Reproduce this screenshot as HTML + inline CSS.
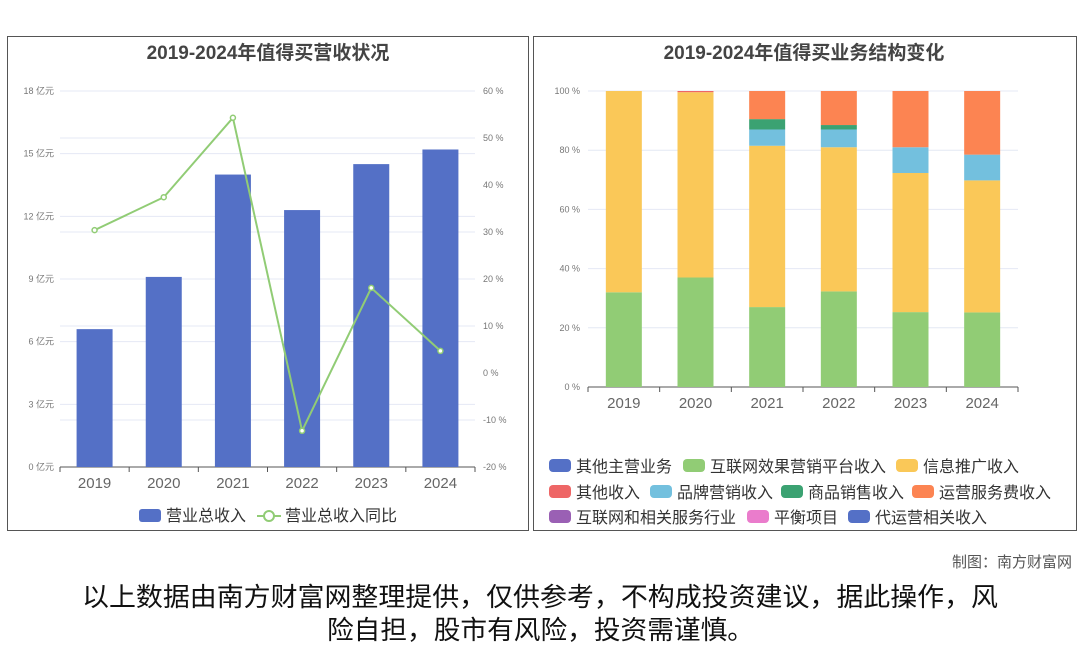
<!DOCTYPE html>
<html><head><meta charset="utf-8">
<style>
body{margin:0;width:1080px;height:646px;background:#fff;overflow:hidden;font-family:"Liberation Sans","Noto Sans CJK SC",sans-serif;}
svg{position:absolute;left:0;top:0}
</style></head>
<body>
<svg id="c" width="1080" height="646" xmlns="http://www.w3.org/2000/svg" font-family="Liberation Sans, Noto Sans CJK SC, sans-serif">
<rect x="7.5" y="36.5" width="521" height="494" fill="none" stroke="#555"/>
<rect x="533.5" y="36.5" width="543" height="494" fill="none" stroke="#555"/>
<text x="268" y="59" text-anchor="middle" font-size="19" font-weight="bold" fill="#444">2019-2024年值得买营收状况</text>
<text x="804" y="59" text-anchor="middle" font-size="19" font-weight="bold" fill="#444">2019-2024年值得买业务结构变化</text>
<g id="left"></g><g id="right"></g>
<text x="1072" y="567" text-anchor="end" font-size="15" fill="#555">制图：南方财富网</text>
<text x="82" y="606" font-size="26" fill="#111" textLength="916" lengthAdjust="spacingAndGlyphs">以上数据由南方财富网整理提供，仅供参考，不构成投资建议，据此操作，风</text>
<text x="327" y="639" font-size="26" fill="#111" textLength="427" lengthAdjust="spacingAndGlyphs">险自担，股市有风险，投资需谨慎。</text>
</svg>
<script>
const years=["2019","2020","2021","2022","2023","2024"];
const revenue=[6.6,9.1,14.0,12.3,14.5,15.2];
const growth=[30.4,37.4,54.3,-12.3,18.1,4.7];
const leftTicks=[0,3,6,9,12,15,18];
const rightTicks=[-20,-10,0,10,20,30,40,50,60];
const segGreen=[32,37,27,32.3,25.3,25.2];
const segYellow=[68,62.6,54.5,48.7,47,44.6];
const segRed=[0,0.4,0,0,0,0];
const segBlue=[0,0,5.5,6,8.7,8.7];
const segDkGreen=[0,0,3.5,1.5,0,0];
const segOrange=[0,0,9.5,11.5,19,21.5];
const pctTicks=[0,20,40,60,80,100];
const NS="http://www.w3.org/2000/svg";
function mk(p,t,a,txt){const e=document.createElementNS(NS,t);for(const k in a)e.setAttribute(k,a[k]);if(txt!=null)e.textContent=txt;p.appendChild(e);return e;}
// left chart
const L=document.getElementById('left');
const lx0=60,lx1=475,ly0=467,ly1=91;
const lband=(lx1-lx0)/years.length;
const lX=i=>lx0+lband*(i+0.5);
const lY=v=>ly0-(v/18)*(ly0-ly1);
const rY=v=>ly0-((v+20)/80)*(ly0-ly1);
leftTicks.forEach(t=>{
 let g=mk(L,'line',{x1:lx0,x2:lx1,y1:lY(t),y2:lY(t),stroke:t?'#e4e8f4':'#555'});
 
 
 let tx=mk(L,'text',{x:lx0-6,y:lY(t)+3,'text-anchor':'end','font-size':9,fill:'#777'},t+' 亿元');
 
 
});
rightTicks.forEach(t=>{
 if(t%20!==0){let g=mk(L,'line',{x1:lx0,x2:lx1,y1:rY(t),y2:rY(t),stroke:'#e4e8f4'});
 
 }
 let tx=mk(L,'text',{x:lx1+8,y:rY(t)+3,'font-size':9,fill:'#777'},t+' %');
 
 
});
years.forEach((y,i)=>{
 let tk=mk(L,'line',{x1:lx0+lband*i,x2:lx0+lband*i,y1:ly0,y2:ly0+5,stroke:'#555'});
 
 
 let b=mk(L,'rect',{x:lX(i)-18,y:lY(revenue[i]),width:36,height:ly0-lY(revenue[i]),fill:'#5470c6'});
 
 
 let t=mk(L,'text',{x:lX(i),y:488,'text-anchor':'middle','font-size':15,fill:'#666'},y);
 
 
});
mk(L,'line',{x1:lx1,x2:lx1,y1:ly0,y2:ly0+5,stroke:'#555'});
let pl=mk(L,'polyline',{points:growth.map((v,i)=>lX(i)+','+rY(v)).join(' '),fill:'none',stroke:'#91cc75','stroke-width':2});


growth.forEach((v,i)=>{let c=mk(L,'circle',{cx:lX(i),cy:rY(v),r:2.5,fill:'#fff',stroke:'#91cc75','stroke-width':1.5});
 
 });
let lg1=mk(L,'rect',{x:139,y:509,width:22,height:13,rx:3,fill:'#5470c6'});


mk(L,'text',{x:166,y:521,'font-size':16,fill:'#333'},'营业总收入');
let lg2=mk(L,'g',{});


mk(lg2,'line',{x1:257,x2:281,y1:516,y2:516,stroke:'#91cc75','stroke-width':2});
mk(lg2,'circle',{cx:269,cy:516,r:5,fill:'#fff',stroke:'#91cc75','stroke-width':2});
mk(L,'text',{x:285,y:521,'font-size':16,fill:'#333'},'营业总收入同比');
// right chart
const R=document.getElementById('right');
const rx0=588,rx1=1018,ry0=387,ry1=91;
const rband=(rx1-rx0)/years.length;
const rX=i=>rx0+rband*(i+0.5);
const pY=v=>ry0-(v/100)*(ry0-ry1);
pctTicks.forEach(t=>{
 let g=mk(R,'line',{x1:rx0,x2:rx1,y1:pY(t),y2:pY(t),stroke:t?'#e4e8f4':'#555'});
 
 
 let tx=mk(R,'text',{x:580,y:pY(t)+3,'text-anchor':'end','font-size':9,fill:'#777'},t+' %');
 
 
});
const series=[[segGreen,'#91cc75'],[segYellow,'#fac858'],[segRed,'#ee6666'],[segBlue,'#73c0de'],[segDkGreen,'#3ba272'],[segOrange,'#fc8452']];
years.forEach((y,i)=>{
 let tk=mk(R,'line',{x1:rx0+rband*i,x2:rx0+rband*i,y1:ry0,y2:ry0+5,stroke:'#555'});
 
 
 let acc=0;
 series.forEach(([arr,col],k)=>{
  const v=arr[i]; if(!v)return;
  let r=mk(R,'rect',{x:rX(i)-18,y:pY(acc+v),width:36,height:pY(acc)-pY(acc+v),fill:col});
  
  
  acc+=v;
 });
 let t=mk(R,'text',{x:rX(i),y:408,'text-anchor':'middle','font-size':15,fill:'#666'},y);
 
 
});
mk(R,'line',{x1:rx1,x2:rx1,y1:ry0,y2:ry0+5,stroke:'#555'});
const legends=[
 [549,466,'#5470c6','其他主营业务'],[683,466,'#91cc75','互联网效果营销平台收入'],[896,466,'#fac858','信息推广收入'],
 [549,492,'#ee6666','其他收入'],[650,492,'#73c0de','品牌营销收入'],[781,492,'#3ba272','商品销售收入'],[912,492,'#fc8452','运营服务费收入'],
 [549,517,'#9a60b4','互联网和相关服务行业'],[747,517,'#ea7ccc','平衡项目'],[848,517,'#5470c6','代运营相关收入']];
legends.forEach(([x,y,c,t])=>{
 let s=mk(R,'rect',{x:x,y:y-7,width:22,height:13,rx:4,fill:c});
 
 
 let tx=mk(R,'text',{x:x+27,y:y+6,'font-size':16,fill:'#333'},t);
 
 
});
</script>
</body></html>
